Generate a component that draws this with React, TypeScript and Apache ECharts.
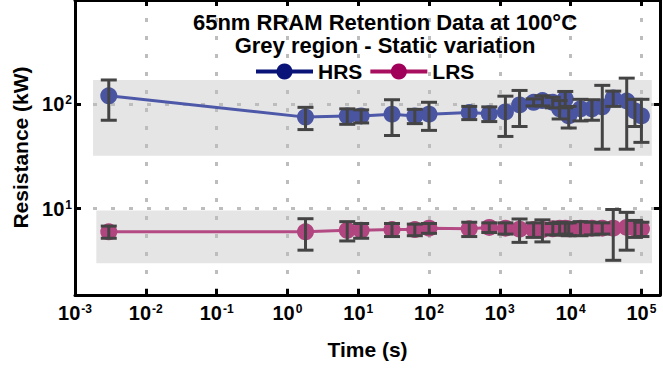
import React, { useEffect, useRef } from 'react';
import * as echarts from 'echarts';

// Measurement times (s), shared by both states
const timeS = [0.003, 1.8, 7, 11, 30, 63, 100, 370, 710, 1200, 1900, 3000, 4000, 5600, 7000, 8400, 9400, 13800, 20000, 28000, 40000, 62000, 81000, 100000];
// HRS resistance (kΩ): mean and standard deviation
const hrsMean = [120, 75, 77, 77, 80, 77, 80, 83, 81, 84, 98, 104, 108, 104, 90, 112, 77, 90, 90, 94, 114, 107, 86, 77];
const hrsStd = [50, 18, 13, 11, 30, 12, 24, 12, 13, 35, 37, 8, 12, 12, 18, 20, 18, 21, 20, 57, 19, 70, 25, 34];
// LRS resistance (kΩ): mean and standard deviation
const lrsMean = [6.0, 6.0, 6.2, 6.2, 6.3, 6.3, 6.5, 6.4, 6.6, 6.5, 6.35, 6.3, 6.3, 6.4, 6.5, 6.5, 6.4, 6.5, 6.5, 6.5, 6.5, 6.6, 6.5, 6.4];
const lrsStd = [0.8, 2.0, 1.3, 1.0, 0.9, 0.8, 0.7, 1.0, 0.7, 0.8, 1.6, 1.0, 1.5, 0.8, 0.9, 0.8, 0.9, 1.0, 0.9, 0.8, 3.3, 2.6, 1.2, 1.0];
// Static-variation bands: [time start, time end], [resistance low, high]
const hrsBandTime = [0.0018, 140000];
const hrsBandRes = [32, 170];
const lrsBandTime = [0.002, 141000];
const lrsBandRes = [3.0, 9.6];
// Axis extents
const xRange = [0.001, 183000];
const yRange = [1.49, 990];

const FONT = '"Liberation Sans", Arial, Helvetica, sans-serif';

function powLabel(v: number): string {
  const e = Math.log10(v);
  const r = Math.round(e);
  if (Math.abs(e - r) > 1e-6) return '';
  return `{b|10}{s|${r}}`;
}

const richLabel = {
  b: { fontSize: 20, fontWeight: 'bold', fontFamily: FONT, color: '#000' },
  s: { fontSize: 12, fontWeight: 'bold', fontFamily: FONT, color: '#000', verticalAlign: 'top', padding: [0, 0, 0, 1] },
};

const gridDot = { color: '#bdbdbd', width: 3, type: [4, 14] as number[] };

export default function App() {
  const ref = useRef<HTMLDivElement>(null);
  useEffect(() => {
    if (!ref.current) return;
    const chart = echarts.init(ref.current, undefined, { renderer: 'svg' });

    const bandData = [
      [hrsBandTime[0], hrsBandTime[1], hrsBandRes[0], hrsBandRes[1]],
      [lrsBandTime[0], lrsBandTime[1], lrsBandRes[0], lrsBandRes[1]],
    ];
    const hrsPts = timeS.map((t, i) => [t, hrsMean[i]]);
    const lrsPts = timeS.map((t, i) => [t, lrsMean[i]]);
    const hrsErr = timeS.map((t, i) => [t, hrsMean[i] - hrsStd[i], hrsMean[i] + hrsStd[i]]);
    const lrsErr = timeS.map((t, i) => [t, lrsMean[i] - lrsStd[i], lrsMean[i] + lrsStd[i]]);

    const errRender = (params: any, api: any) => {
      const t = api.value(0);
      const lo = api.value(1);
      const hi = api.value(2);
      const a = api.coord([t, hi]);
      const b = api.coord([t, lo]);
      const hw = 8;
      const st = { stroke: '#444444', lineWidth: 3 };
      return {
        type: 'group',
        children: [
          { type: 'line', shape: { x1: a[0], y1: a[1], x2: b[0], y2: b[1] }, style: st },
          { type: 'line', shape: { x1: a[0] - hw, y1: a[1], x2: a[0] + hw, y2: a[1] }, style: st },
          { type: 'line', shape: { x1: b[0] - hw, y1: b[1], x2: b[0] + hw, y2: b[1] }, style: st },
        ],
      };
    };

    const axisCommon = {
      type: 'log',
      logBase: 10,
      axisLine: { show: true, lineStyle: { color: '#000', width: 3 } },
      axisTick: { show: true, inside: true, length: 6, lineStyle: { color: '#000', width: 3 } },
      minorTick: { show: false },
    };

    chart.setOption({
      animation: false,
      backgroundColor: '#fff',
      title: {
        text: '65nm RRAM Retention Data at 100°C\nGrey region - Static variation',
        left: 385,
        top: 11,
        textAlign: 'center',
        padding: 0,
        textStyle: { fontFamily: FONT, fontWeight: 'bold', fontSize: 22, lineHeight: 23, color: '#000' },
      },
      legend: {
        left: 254,
        top: 61,
        padding: 0,
        itemWidth: 57,
        itemHeight: 20,
        itemGap: 6,
        textStyle: { fontFamily: FONT, fontWeight: 'bold', fontSize: 21, color: '#000' },
        data: [
          { name: 'HRS', itemStyle: { color: '#0a1478' }, lineStyle: { color: '#0a1478', width: 4 } },
          { name: 'LRS', itemStyle: { color: '#a0005a' }, lineStyle: { color: '#a8105f', width: 4 } },
        ],
      },
      grid: { left: 75, right: -2, top: 0, bottom: 74, containLabel: false },
      xAxis: [
        {
          ...axisCommon,
          position: 'bottom',
          min: xRange[0],
          max: xRange[1],
          axisLabel: { formatter: powLabel, rich: richLabel, margin: 8 },
          splitLine: { show: true, showMinLine: false, showMaxLine: false, lineStyle: gridDot },
          name: 'Time (s)',
          nameLocation: 'middle',
          nameGap: 44,
          nameTextStyle: { fontFamily: FONT, fontWeight: 'bold', fontSize: 21, color: '#000' },
        },
        {
          ...axisCommon,
          position: 'top',
          min: xRange[0],
          max: xRange[1],
          axisLabel: { show: false },
          splitLine: { show: false },
        },
      ],
      yAxis: [
        {
          ...axisCommon,
          position: 'left',
          min: yRange[0],
          max: yRange[1],
          axisLabel: { formatter: powLabel, rich: richLabel, margin: 3 },
          splitLine: { show: true, showMinLine: false, showMaxLine: false, lineStyle: gridDot },
          name: 'Resistance (kW)',
          nameLocation: 'middle',
          nameGap: 42,
          nameTextStyle: { fontFamily: FONT, fontWeight: 'bold', fontSize: 21, color: '#000' },
        },
        {
          ...axisCommon,
          position: 'right',
          min: yRange[0],
          max: yRange[1],
          axisLabel: { show: false },
          splitLine: { show: false },
        },
      ],
      series: [
        {
          name: 'bands',
          type: 'custom',
          z: -1,
          silent: true,
          xAxisIndex: 0,
          yAxisIndex: 0,
          data: bandData,
          encode: { x: [0, 1], y: [2, 3] },
          renderItem: (params: any, api: any) => {
            const p0 = api.coord([api.value(0), api.value(3)]);
            const p1 = api.coord([api.value(1), api.value(2)]);
            return {
              type: 'rect',
              shape: { x: p0[0], y: p0[1], width: p1[0] - p0[0], height: p1[1] - p0[1] },
              style: { fill: '#e5e5e5' },
            };
          },
        },
        {
          name: 'HRS',
          type: 'line',
          data: hrsPts,
          symbol: 'circle',
          symbolSize: 17,
          itemStyle: { color: '#4a55a2' },
          lineStyle: { color: '#4d59a8', width: 3 },
          z: 2,
        },
        {
          name: 'LRS',
          type: 'line',
          data: lrsPts,
          symbol: 'circle',
          symbolSize: 17,
          itemStyle: { color: '#b0457f' },
          lineStyle: { color: '#b34a84', width: 3 },
          z: 2,
        },
        {
          name: 'HRS error',
          type: 'custom',
          data: hrsErr,
          encode: { x: 0, y: [1, 2] },
          renderItem: errRender,
          z: 3,
          silent: true,
        },
        {
          name: 'LRS error',
          type: 'custom',
          data: lrsErr,
          encode: { x: 0, y: [1, 2] },
          renderItem: errRender,
          z: 3,
          silent: true,
        },
      ],
    });
    return () => chart.dispose();
  }, []);

  return (
    <div
      ref={ref}
      style={{ position: 'absolute', left: 0, top: 0, width: 663, height: 369, overflow: 'hidden' }}
    />
  );
}
